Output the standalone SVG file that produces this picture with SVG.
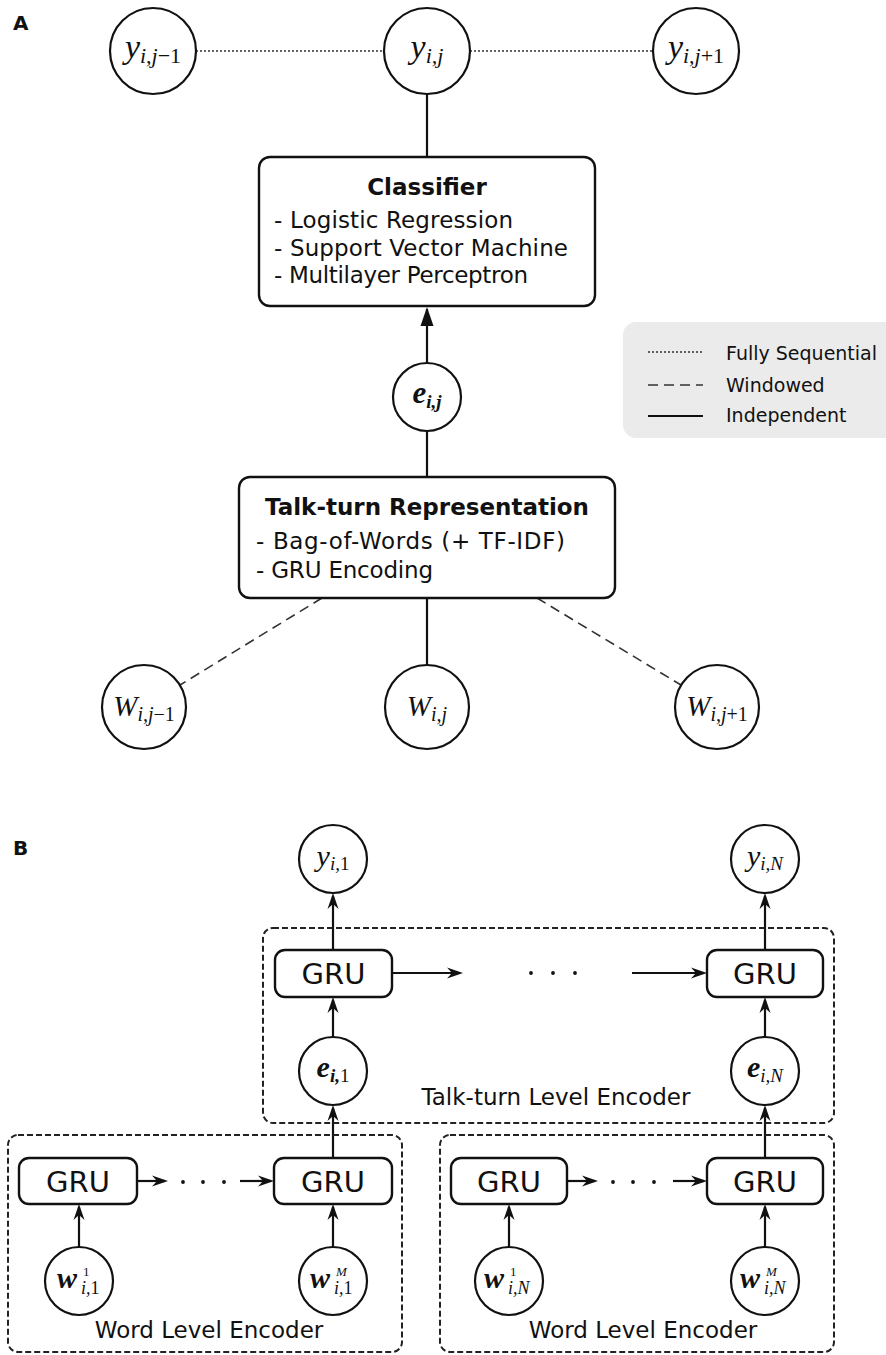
<svg xmlns="http://www.w3.org/2000/svg" width="886" height="1355" viewBox="0 0 886 1355">
<style>
.bg{fill:#ffffff}
.node{fill:#ffffff;stroke:#111;stroke-width:2.2}
.box{fill:#ffffff;stroke:#111;stroke-width:2.4}
.dbox{fill:none;stroke:#222;stroke-width:2;stroke-dasharray:6 3}
.solid{stroke:#111;stroke-width:2.2;fill:none}
.dot{stroke:#333;stroke-width:1.6;stroke-dasharray:2 2;fill:none}
.dash{stroke:#333;stroke-width:1.6;stroke-dasharray:10 6;fill:none}
.sans{font-family:"DejaVu Sans","Verdana",sans-serif;fill:#111}
.t23{font-size:23px}
.t19{font-size:19px}
.b{font-weight:bold}
.gru{font-family:"DejaVu Sans","Verdana",sans-serif;font-size:29px;fill:#111;text-anchor:middle}
.m{font-family:"Liberation Serif","Times New Roman",serif;font-style:italic;fill:#111;text-anchor:middle}
.ms{font-family:"Liberation Serif","Times New Roman",serif;font-style:italic;fill:#111}
.mb{font-family:"Liberation Serif","Times New Roman",serif;font-style:italic;font-weight:bold;fill:#111;text-anchor:middle}
.up{font-style:normal}
.lbl{font-family:"DejaVu Sans","Verdana",sans-serif;font-weight:bold;font-size:20px;fill:#111}
</style>
<defs>
<marker id="tri" markerUnits="userSpaceOnUse" markerWidth="19" markerHeight="14" refX="17" refY="7" orient="auto">
<path d="M0,0.5 L19,7 L0,13.5 Z" fill="#111"/>
</marker>
<marker id="stealth" markerUnits="userSpaceOnUse" markerWidth="16" markerHeight="12" refX="13" refY="6" orient="auto">
<path d="M0,0.5 L16,6 L0,11.5 L5,6 Z" fill="#111"/>
</marker>
</defs>
<rect class="bg" x="0" y="0" width="886" height="1355"/>

<text class="lbl" x="13" y="30">A</text>
<text class="lbl" x="13" y="855">B</text>

<!-- legend -->
<g id="legend">
<rect x="623" y="322" width="290" height="116" rx="13" fill="#ebebeb"/>
<line class="dot" x1="648" y1="352" x2="703" y2="352"/>
<line class="dash" x1="648" y1="385" x2="703" y2="385"/>
<line class="solid" x1="648" y1="416" x2="703" y2="416" stroke-width="2.6"/>
<text class="sans t19" x="726" y="360">Fully Sequential</text>
<text class="sans t19" x="726" y="392">Windowed</text>
<text class="sans t19" x="726" y="422">Independent</text>
</g>

<!-- connectors -->
<g id="connectors">
<line class="dot" x1="196" y1="51" x2="384" y2="51"/>
<line class="dot" x1="470" y1="51" x2="653" y2="51"/>
<line class="solid" x1="427" y1="94" x2="427" y2="157"/>
<line class="solid" x1="427" y1="363" x2="427" y2="309" marker-end="url(#tri)"/>
<line class="solid" x1="427" y1="431" x2="427" y2="477"/>
<line class="dash" x1="322" y1="598" x2="180" y2="685"/>
<line class="solid" x1="427" y1="598" x2="427" y2="665"/>
<line class="dash" x1="537" y1="598" x2="681" y2="685"/>

<!-- panel B -->
<line class="solid" x1="333" y1="950" x2="333" y2="896" marker-end="url(#stealth)"/>
<line class="solid" x1="765" y1="950" x2="765" y2="896" marker-end="url(#stealth)"/>
<line class="solid" x1="333" y1="1037" x2="333" y2="1000" marker-end="url(#stealth)"/>
<line class="solid" x1="765" y1="1037" x2="765" y2="1000" marker-end="url(#stealth)"/>
<line class="solid" x1="333" y1="1158" x2="333" y2="1108" marker-end="url(#stealth)"/>
<line class="solid" x1="765" y1="1158" x2="765" y2="1108" marker-end="url(#stealth)"/>
<line class="solid" x1="79" y1="1247" x2="79" y2="1207" marker-end="url(#stealth)"/>
<line class="solid" x1="333" y1="1247" x2="333" y2="1207" marker-end="url(#stealth)"/>
<line class="solid" x1="509" y1="1247" x2="509" y2="1207" marker-end="url(#stealth)"/>
<line class="solid" x1="765" y1="1247" x2="765" y2="1207" marker-end="url(#stealth)"/>

<line class="solid" x1="392" y1="973" x2="460" y2="973" marker-end="url(#stealth)"/>
<line class="solid" x1="632" y1="973" x2="704" y2="973" marker-end="url(#stealth)"/>
<line class="solid" x1="137" y1="1181" x2="165" y2="1181" marker-end="url(#stealth)"/>
<line class="solid" x1="240" y1="1181" x2="271" y2="1181" marker-end="url(#stealth)"/>
<line class="solid" x1="567" y1="1181" x2="595" y2="1181" marker-end="url(#stealth)"/>
<line class="solid" x1="673" y1="1181" x2="704" y2="1181" marker-end="url(#stealth)"/>
<g fill="#111">
<circle cx="531" cy="973" r="1.9"/><circle cx="553" cy="973" r="1.9"/><circle cx="575" cy="973" r="1.9"/>
<circle cx="183" cy="1182" r="1.9"/><circle cx="203" cy="1182" r="1.9"/><circle cx="224" cy="1182" r="1.9"/>
<circle cx="613" cy="1182" r="1.9"/><circle cx="633" cy="1182" r="1.9"/><circle cx="654" cy="1182" r="1.9"/>
</g>
</g>

<!-- panel A nodes -->
<g id="y_prev">
<circle class="node" cx="153" cy="51" r="43"/>
<text class="m" x="153" y="58"><tspan font-size="34">y</tspan><tspan font-size="22" dy="5">i,j</tspan><tspan class="up" font-size="22">−1</tspan></text>
</g>
<g id="y_cur">
<circle class="node" cx="427" cy="51" r="43"/>
<text class="m" x="427" y="58"><tspan font-size="34">y</tspan><tspan font-size="22" dy="5">i,j</tspan></text>
</g>
<g id="y_next">
<circle class="node" cx="696" cy="51" r="43"/>
<text class="m" x="696" y="58"><tspan font-size="34">y</tspan><tspan font-size="22" dy="5">i,j</tspan><tspan class="up" font-size="22">+1</tspan></text>
</g>

<g id="classifier">
<rect class="box" x="259" y="157" width="336" height="149" rx="11"/>
<text class="sans t23 b" x="427" y="195" text-anchor="middle">Classifier</text>
<text class="sans t23" x="274" y="228" textLength="239" lengthAdjust="spacing">- Logistic Regression</text>
<text class="sans t23" x="274" y="256" textLength="294" lengthAdjust="spacing">- Support Vector Machine</text>
<text class="sans t23" x="274" y="283" textLength="254" lengthAdjust="spacing">- Multilayer Perceptron</text>
</g>

<g id="e_ij">
<circle class="node" cx="427" cy="397" r="34"/>
<text class="mb" x="427" y="403"><tspan font-size="31">e</tspan><tspan font-size="19" dy="5">i,j</tspan></text>
</g>

<g id="talkturn">
<rect class="box" x="239" y="477" width="376" height="121" rx="11"/>
<text class="sans t23 b" x="427" y="515" text-anchor="middle">Talk-turn Representation</text>
<text class="sans t23" x="256" y="549" textLength="309" lengthAdjust="spacing">- Bag-of-Words (+ TF-IDF)</text>
<text class="sans t23" x="256" y="578" textLength="177" lengthAdjust="spacing">- GRU Encoding</text>
</g>

<g id="W_prev">
<circle class="node" cx="144" cy="707" r="42"/>
<text class="m" x="144" y="716"><tspan font-size="29">W</tspan><tspan font-size="20" dy="5">i,j</tspan><tspan class="up" font-size="20">−1</tspan></text>
</g>
<g id="W_cur">
<circle class="node" cx="427" cy="707" r="42"/>
<text class="m" x="427" y="716"><tspan font-size="29">W</tspan><tspan font-size="20" dy="5">i,j</tspan></text>
</g>
<g id="W_next">
<circle class="node" cx="717" cy="707" r="42"/>
<text class="m" x="717" y="716"><tspan font-size="29">W</tspan><tspan font-size="20" dy="5">i,j</tspan><tspan class="up" font-size="20">+1</tspan></text>
</g>

<!-- panel B -->
<g id="talkturn_encoder">
<rect class="dbox" x="263" y="928" width="571" height="195" rx="10"/>
<text class="sans t23" x="556" y="1105" text-anchor="middle">Talk-turn Level Encoder</text>
</g>
<g id="word_encoder_1">
<rect class="dbox" x="8" y="1135" width="394" height="217" rx="10"/>
<text class="sans t23" x="209" y="1338" text-anchor="middle">Word Level Encoder</text>
</g>
<g id="word_encoder_N">
<rect class="dbox" x="440" y="1135" width="394" height="217" rx="10"/>
<text class="sans t23" x="643" y="1338" text-anchor="middle">Word Level Encoder</text>
</g>

<g id="y_1">
<circle class="node" cx="333" cy="859" r="34"/>
<text class="m" x="333" y="866"><tspan font-size="30">y</tspan><tspan font-size="19" dy="4">i,</tspan><tspan class="up" font-size="19">1</tspan></text>
</g>
<g id="y_N">
<circle class="node" cx="765" cy="859" r="34"/>
<text class="m" x="765" y="866"><tspan font-size="30">y</tspan><tspan font-size="19" dy="4">i,N</tspan></text>
</g>

<g id="gru_t1">
<rect class="box" x="275" y="950" width="117" height="47" rx="10"/>
<text class="gru" x="333.5" y="984">GRU</text>
</g>
<g id="gru_tN">
<rect class="box" x="707" y="950" width="116" height="47" rx="10"/>
<text class="gru" x="765" y="984">GRU</text>
</g>

<g id="e_1">
<circle class="node" cx="333" cy="1071" r="34"/>
<text class="mb" x="333" y="1077"><tspan font-size="30">e</tspan><tspan font-size="19" dy="5">i,</tspan><tspan class="up" font-size="19" font-weight="normal">1</tspan></text>
</g>
<g id="e_N">
<circle class="node" cx="765" cy="1071" r="34"/>
<text class="mb" x="765" y="1077"><tspan font-size="30">e</tspan><tspan font-size="19" dy="5" font-weight="normal">i,N</tspan></text>
</g>

<g id="gru_w11">
<rect class="box" x="19" y="1158" width="118" height="46" rx="10"/>
<text class="gru" x="78" y="1192">GRU</text>
</g>
<g id="gru_w1M">
<rect class="box" x="274" y="1158" width="118" height="46" rx="10"/>
<text class="gru" x="333" y="1192">GRU</text>
</g>
<g id="gru_wN1">
<rect class="box" x="451" y="1158" width="116" height="46" rx="10"/>
<text class="gru" x="509" y="1192">GRU</text>
</g>
<g id="gru_wNM">
<rect class="box" x="707" y="1158" width="116" height="46" rx="10"/>
<text class="gru" x="765" y="1192">GRU</text>
</g>

<g id="w_1_1">
<circle class="node" cx="79" cy="1281" r="34"/>
<text class="mb" font-size="30" x="67" y="1288">w</text>
<text class="ms up" font-size="13" x="83" y="1276">1</text>
<text class="ms" font-size="18" x="81" y="1294">i,<tspan class="up">1</tspan></text>
</g>
<g id="w_1_M">
<circle class="node" cx="333" cy="1281" r="34"/>
<text class="mb" font-size="30" x="320" y="1288">w</text>
<text class="ms" font-size="13" x="336" y="1276">M</text>
<text class="ms" font-size="18" x="334" y="1294">i,<tspan class="up">1</tspan></text>
</g>
<g id="w_N_1">
<circle class="node" cx="509" cy="1281" r="34"/>
<text class="mb" font-size="30" x="494" y="1288">w</text>
<text class="ms up" font-size="13" x="510" y="1276">1</text>
<text class="ms" font-size="18" x="508" y="1294">i,N</text>
</g>
<g id="w_N_M">
<circle class="node" cx="765" cy="1281" r="34"/>
<text class="mb" font-size="30" x="750" y="1288">w</text>
<text class="ms" font-size="13" x="766" y="1276">M</text>
<text class="ms" font-size="18" x="764" y="1294">i,N</text>
</g>
</svg>
